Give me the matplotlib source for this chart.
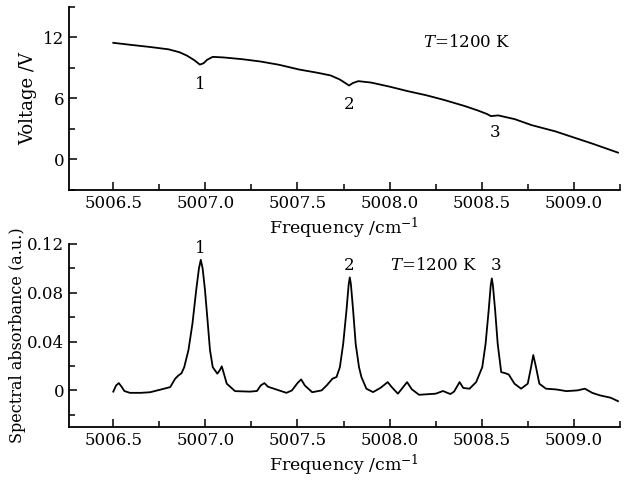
#!/usr/bin/env python3
"""
Voltage and spectral absorbance vs frequency, T=1200 K.
"""

import matplotlib
matplotlib.use("Agg")
import matplotlib.pyplot as plt
from matplotlib.ticker import MultipleLocator

# voltage trace (upper panel)
freq_v = [5006.50, 5006.60, 5006.70, 5006.80, 5006.86, 5006.90, 5006.94, 5006.97,
          5006.99, 5007.01, 5007.04, 5007.10, 5007.20, 5007.30, 5007.40, 5007.51,
          5007.61, 5007.68, 5007.73, 5007.76, 5007.78, 5007.80, 5007.83, 5007.90,
          5008.00, 5008.10, 5008.20, 5008.30, 5008.41, 5008.48, 5008.53, 5008.55,
          5008.59, 5008.68, 5008.77, 5008.90, 5009.00, 5009.10, 5009.24]
volt = [11.46, 11.25, 11.05, 10.82, 10.53, 10.20, 9.75, 9.32,
        9.45, 9.80, 10.08, 10.02, 9.85, 9.62, 9.30, 8.83,
        8.51, 8.25, 7.85, 7.50, 7.26, 7.50, 7.69, 7.55,
        7.15, 6.70, 6.30, 5.82, 5.23, 4.80, 4.45, 4.25,
        4.32, 3.95, 3.37, 2.75, 2.15, 1.55, 0.66]

# absorbance trace (lower panel)
freq_a = [5006.500, 5006.515, 5006.530, 5006.545, 5006.560, 5006.590, 5006.650, 5006.700,
          5006.755, 5006.809, 5006.836, 5006.854, 5006.870, 5006.885, 5006.908, 5006.930,
          5006.950, 5006.965, 5006.975, 5006.985, 5006.998, 5007.013, 5007.025, 5007.040,
          5007.065, 5007.080, 5007.089, 5007.100, 5007.116, 5007.161, 5007.242, 5007.280,
          5007.300, 5007.320, 5007.340, 5007.390, 5007.440, 5007.470, 5007.500, 5007.520,
          5007.540, 5007.580, 5007.631, 5007.658, 5007.690, 5007.712, 5007.730, 5007.748,
          5007.766, 5007.778, 5007.784, 5007.790, 5007.802, 5007.816, 5007.834, 5007.847,
          5007.874, 5007.910, 5007.950, 5007.990, 5008.010, 5008.045, 5008.070, 5008.095,
          5008.120, 5008.160, 5008.250, 5008.290, 5008.330, 5008.350, 5008.380, 5008.400,
          5008.434, 5008.470, 5008.503, 5008.521, 5008.538, 5008.549, 5008.555, 5008.561,
          5008.573, 5008.587, 5008.606, 5008.630, 5008.647, 5008.678, 5008.714, 5008.750,
          5008.768, 5008.780, 5008.795, 5008.813, 5008.849, 5008.904, 5008.960, 5009.020,
          5009.060, 5009.100, 5009.140, 5009.200, 5009.240]
absorb = [-0.0010, 0.0040, 0.0060, 0.0030, -0.0005, -0.0020, -0.0020, -0.0015,
          0.0006, 0.0027, 0.0096, 0.0123, 0.0140, 0.0190, 0.0330, 0.0550,
          0.0820, 0.1000, 0.1070, 0.1000, 0.0820, 0.0550, 0.0330, 0.0190,
          0.0137, 0.0170, 0.0197, 0.0140, 0.0055, -0.0006, -0.0010, -0.0005,
          0.0040, 0.0060, 0.0030, 0.0005, -0.0020, 0.0000, 0.0060, 0.0090,
          0.0040, -0.0015, 0.0000, 0.0040, 0.0096, 0.0110, 0.0190, 0.0380,
          0.0657, 0.0870, 0.0926, 0.0870, 0.0657, 0.0380, 0.0190, 0.0110,
          0.0014, -0.0014, 0.0020, 0.0068, 0.0030, -0.0027, 0.0020, 0.0068,
          0.0010, -0.0036, -0.0027, -0.0005, -0.0030, -0.0010, 0.0068, 0.0020,
          0.0014, 0.0068, 0.0190, 0.0380, 0.0657, 0.0860, 0.0918, 0.0860,
          0.0657, 0.0380, 0.0150, 0.0140, 0.0130, 0.0055, 0.0014, 0.0055,
          0.0190, 0.0290, 0.0190, 0.0055, 0.0014, 0.0008, -0.0006, 0.0000,
          0.0014, -0.0020, -0.0040, -0.0060, -0.0088]

# peak labels
peak_names = ["1", "2", "3"]
peak_x = [5006.97, 5007.78, 5008.57]
peak_y_volt = [7.4, 5.4, 2.6]
peak_x_abs = [5006.97, 5007.78, 5008.58]
peak_y_abs = [0.116, 0.102, 0.102]

plt.rcParams["font.family"] = "DejaVu Serif"
plt.rcParams["mathtext.fontset"] = "dejavuserif"
plt.rcParams["font.size"] = 12


def style_axis(ax):
    for side in ("top", "right"):
        ax.spines[side].set_visible(False)
    for side in ("left", "bottom"):
        ax.spines[side].set_linewidth(1.3)
    ax.tick_params(which="both", direction="in", width=1.1)
    ax.tick_params(which="major", length=6)
    ax.tick_params(which="minor", length=4)
    ax.set_xlim(5006.26, 5009.25)
    ax.xaxis.set_minor_locator(MultipleLocator(0.25))
    ax.set_xticks([5006.5, 5007.0, 5007.5, 5008.0, 5008.5, 5009.0])
    ax.set_xticklabels(["5006.5", "5007.0", "5007.5", "5008.0", "5008.5", "5009.0"])
    ax.set_xlabel("Frequency /cm$^{-1}$", labelpad=3, fontsize=12.5)


fig = plt.figure(figsize=(6.28, 4.88), dpi=100)
ax1 = fig.add_axes([0.110, 0.611, 0.877, 0.375])
ax2 = fig.add_axes([0.110, 0.125, 0.877, 0.375])

# upper panel
ax1.plot(freq_v, volt, color="black", lw=1.3)
style_axis(ax1)
ax1.set_ylim(-3, 15)
ax1.set_yticks([0, 6, 12])
ax1.yaxis.set_minor_locator(MultipleLocator(3))
ax1.set_ylabel("Voltage /V", labelpad=4, fontsize=13)
for name, x, y in zip(peak_names, peak_x, peak_y_volt):
    ax1.text(x, y, name, ha="center", va="center")
ax1.text(5008.42, 11.5, "$T$=1200 K", ha="center", va="center")

# lower panel
ax2.plot(freq_a, absorb, color="black", lw=1.3)
style_axis(ax2)
ax2.set_ylim(-0.03, 0.12)
ax2.set_yticks([0, 0.04, 0.08, 0.12])
ax2.set_yticklabels(["0", "0.04", "0.08", "0.12"])
ax2.yaxis.set_minor_locator(MultipleLocator(0.02))
ax2.set_ylabel("Spectral absorbance (a.u.)", labelpad=1, fontsize=11.5)
for name, x, y in zip(peak_names, peak_x_abs, peak_y_abs):
    ax2.text(x, y, name, ha="center", va="center")
ax2.text(5008.24, 0.102, "$T$=1200 K", ha="center", va="center")

fig.savefig("out.png", dpi=100)
